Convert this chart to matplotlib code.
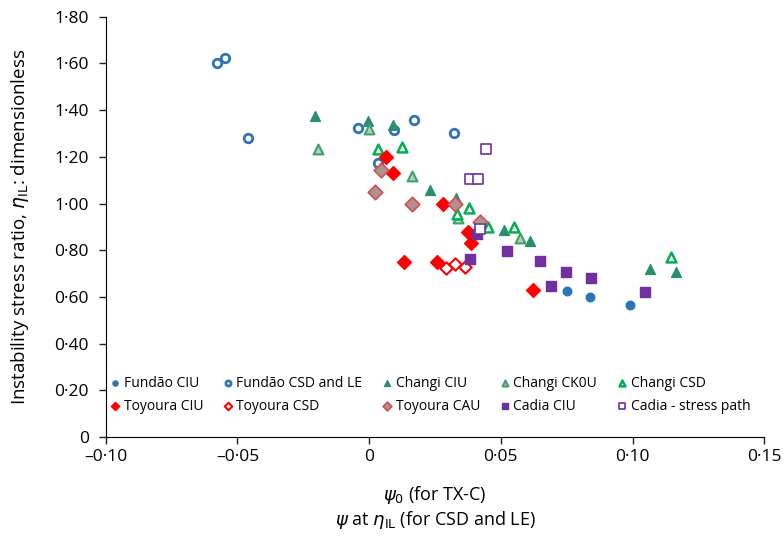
import matplotlib
matplotlib.use('Agg')
import matplotlib.pyplot as plt
from matplotlib.ticker import FuncFormatter, MultipleLocator

plt.rcParams['font.family'] = ['Open Sans', 'DejaVu Sans']
plt.rcParams['mathtext.fontset'] = 'dejavusans'

# data
fundao_ciu_x = [0.0751, 0.0837, 0.0992]
fundao_ciu_y = [0.626, 0.598, 0.565]

fundao_csd_x = [-0.0576, -0.0547, -0.0461, -0.0041, 0.0093, 0.0172, 0.0323, 0.0032]
fundao_csd_y = [1.602, 1.623, 1.280, 1.324, 1.314, 1.357, 1.301, 1.174]

changi_ciu_x = [-0.0204, -0.0003, 0.0092, 0.0232, 0.0331, 0.0512, 0.0609, 0.1066, 0.1165]
changi_ciu_y = [1.375, 1.354, 1.337, 1.057, 1.024, 0.886, 0.841, 0.718, 0.709]

changi_ck0u_x = [-0.0194, 0.0000, 0.0163, 0.0339, 0.0571]
changi_ck0u_y = [1.233, 1.319, 1.120, 0.937, 0.854]

changi_csd_x = [0.0032, 0.0123, 0.0332, 0.0381, 0.0452, 0.0551, 0.1147]
changi_csd_y = [1.233, 1.244, 0.954, 0.980, 0.898, 0.901, 0.773]

toyoura_ciu_x = [0.0065, 0.0089, 0.0281, 0.0377, 0.0385, 0.0134, 0.0258, 0.0622]
toyoura_ciu_y = [1.199, 1.132, 1.000, 0.880, 0.830, 0.749, 0.749, 0.630]

toyoura_csd_x = [0.0291, 0.0327, 0.0365]
toyoura_csd_y = [0.724, 0.741, 0.730]

toyoura_cau_x = [0.0044, 0.0023, 0.0162, 0.0325, 0.0421]
toyoura_cau_y = [1.143, 1.049, 1.000, 1.000, 0.923]

cadia_ciu_x = [0.0409, 0.0384, 0.0523, 0.0647, 0.0748, 0.0842, 0.0691, 0.1049]
cadia_ciu_y = [0.870, 0.764, 0.796, 0.755, 0.705, 0.681, 0.647, 0.623]

cadia_sp_x = [0.0445, 0.0382, 0.0415, 0.0422]
cadia_sp_y = [1.234, 1.106, 1.106, 0.891]

blue = '#2e75b6'
red = '#ff0000'
purple = '#7030a0'
teal = '#2a8f6c'
green = '#00b050'

fig = plt.figure(figsize=(7.83, 5.41), dpi=100)
ax = fig.add_axes([0.135, 0.192, 0.841, 0.777])

ms = 38
h = []
h.append(ax.scatter(fundao_ciu_x, fundao_ciu_y, s=ms, marker='o', color=blue, label='Fundão CIU', zorder=3))
h.append(ax.scatter(fundao_csd_x, fundao_csd_y, s=ms, marker='o', facecolors='white', edgecolors=blue, linewidths=2, label='Fundão CSD and LE', zorder=3))
h.append(ax.scatter(changi_ciu_x, changi_ciu_y, s=50, marker='^', color=teal, label='Changi CIU', zorder=3))
h.append(ax.scatter(changi_ck0u_x, changi_ck0u_y, s=50, marker='^', facecolors='#b7cdb9', edgecolors='#3ca36a', linewidths=1.5, label='Changi CK0U', zorder=3))
h.append(ax.scatter(changi_csd_x, changi_csd_y, s=50, marker='^', facecolors='white', edgecolors=green, linewidths=1.8, label='Changi CSD', zorder=3))
h.append(ax.scatter(toyoura_ciu_x, toyoura_ciu_y, s=50, marker='D', color=red, label='Toyoura CIU', zorder=4))
h.append(ax.scatter(toyoura_csd_x, toyoura_csd_y, s=40, marker='D', facecolors='white', edgecolors=red, linewidths=1.5, label='Toyoura CSD', zorder=4))
h.append(ax.scatter(toyoura_cau_x, toyoura_cau_y, s=55, marker='D', facecolors='#b09090', edgecolors='#d05050', linewidths=1.2, label='Toyoura CAU', zorder=4))
h.append(ax.scatter(cadia_ciu_x, cadia_ciu_y, s=60, marker='s', color=purple, label='Cadia CIU', zorder=4))
h.append(ax.scatter(cadia_sp_x, cadia_sp_y, s=55, marker='s', facecolors='white', edgecolors=purple, linewidths=1.2, label='Cadia - stress path', zorder=4))

ax.set_xlim(-0.10, 0.15)
ax.set_ylim(0, 1.80)
ax.xaxis.set_major_locator(MultipleLocator(0.05))
ax.yaxis.set_major_locator(MultipleLocator(0.2))


def fmt_x(v, pos):
    if abs(v) < 1e-9:
        return '0'
    s = '%.2f' % abs(v)
    s = s.replace('.', '·')
    return ('–' if v < 0 else '') + s


def fmt_y(v, pos):
    if abs(v) < 1e-9:
        return '0'
    return ('%.2f' % v).replace('.', '·')


ax.xaxis.set_major_formatter(FuncFormatter(fmt_x))
ax.yaxis.set_major_formatter(FuncFormatter(fmt_y))
ax.tick_params(labelsize=12.5, direction='out', length=5, width=1, color='#222222')
ax.tick_params(axis='y', pad=7)
ax.spines['top'].set_visible(False)
ax.spines['right'].set_visible(False)

ax.set_ylabel(r'Instability stress ratio, $\eta_{\mathrm{IL}}$: dimensionless', fontsize=13.5, labelpad=17)
ax.set_xlabel('$\\psi_0$ (for TX-C)\n$\\psi$ at $\\eta_{\\mathrm{IL}}$ (for CSD and LE)', fontsize=13, labelpad=14, linespacing=1.15)

# row-major order for a 5 column legend
order = [0, 5, 1, 6, 2, 7, 3, 8, 4, 9]
leg = ax.legend([h[i] for i in order], [h[i].get_label() for i in order], ncol=5, loc='lower left',
                bbox_to_anchor=(-0.015, 0.025), frameon=False, fontsize=10, handletextpad=0.1,
                columnspacing=1.3, markerscale=0.6, labelspacing=0.6, handlelength=1.0)

fig.savefig('out.png', dpi=100)
